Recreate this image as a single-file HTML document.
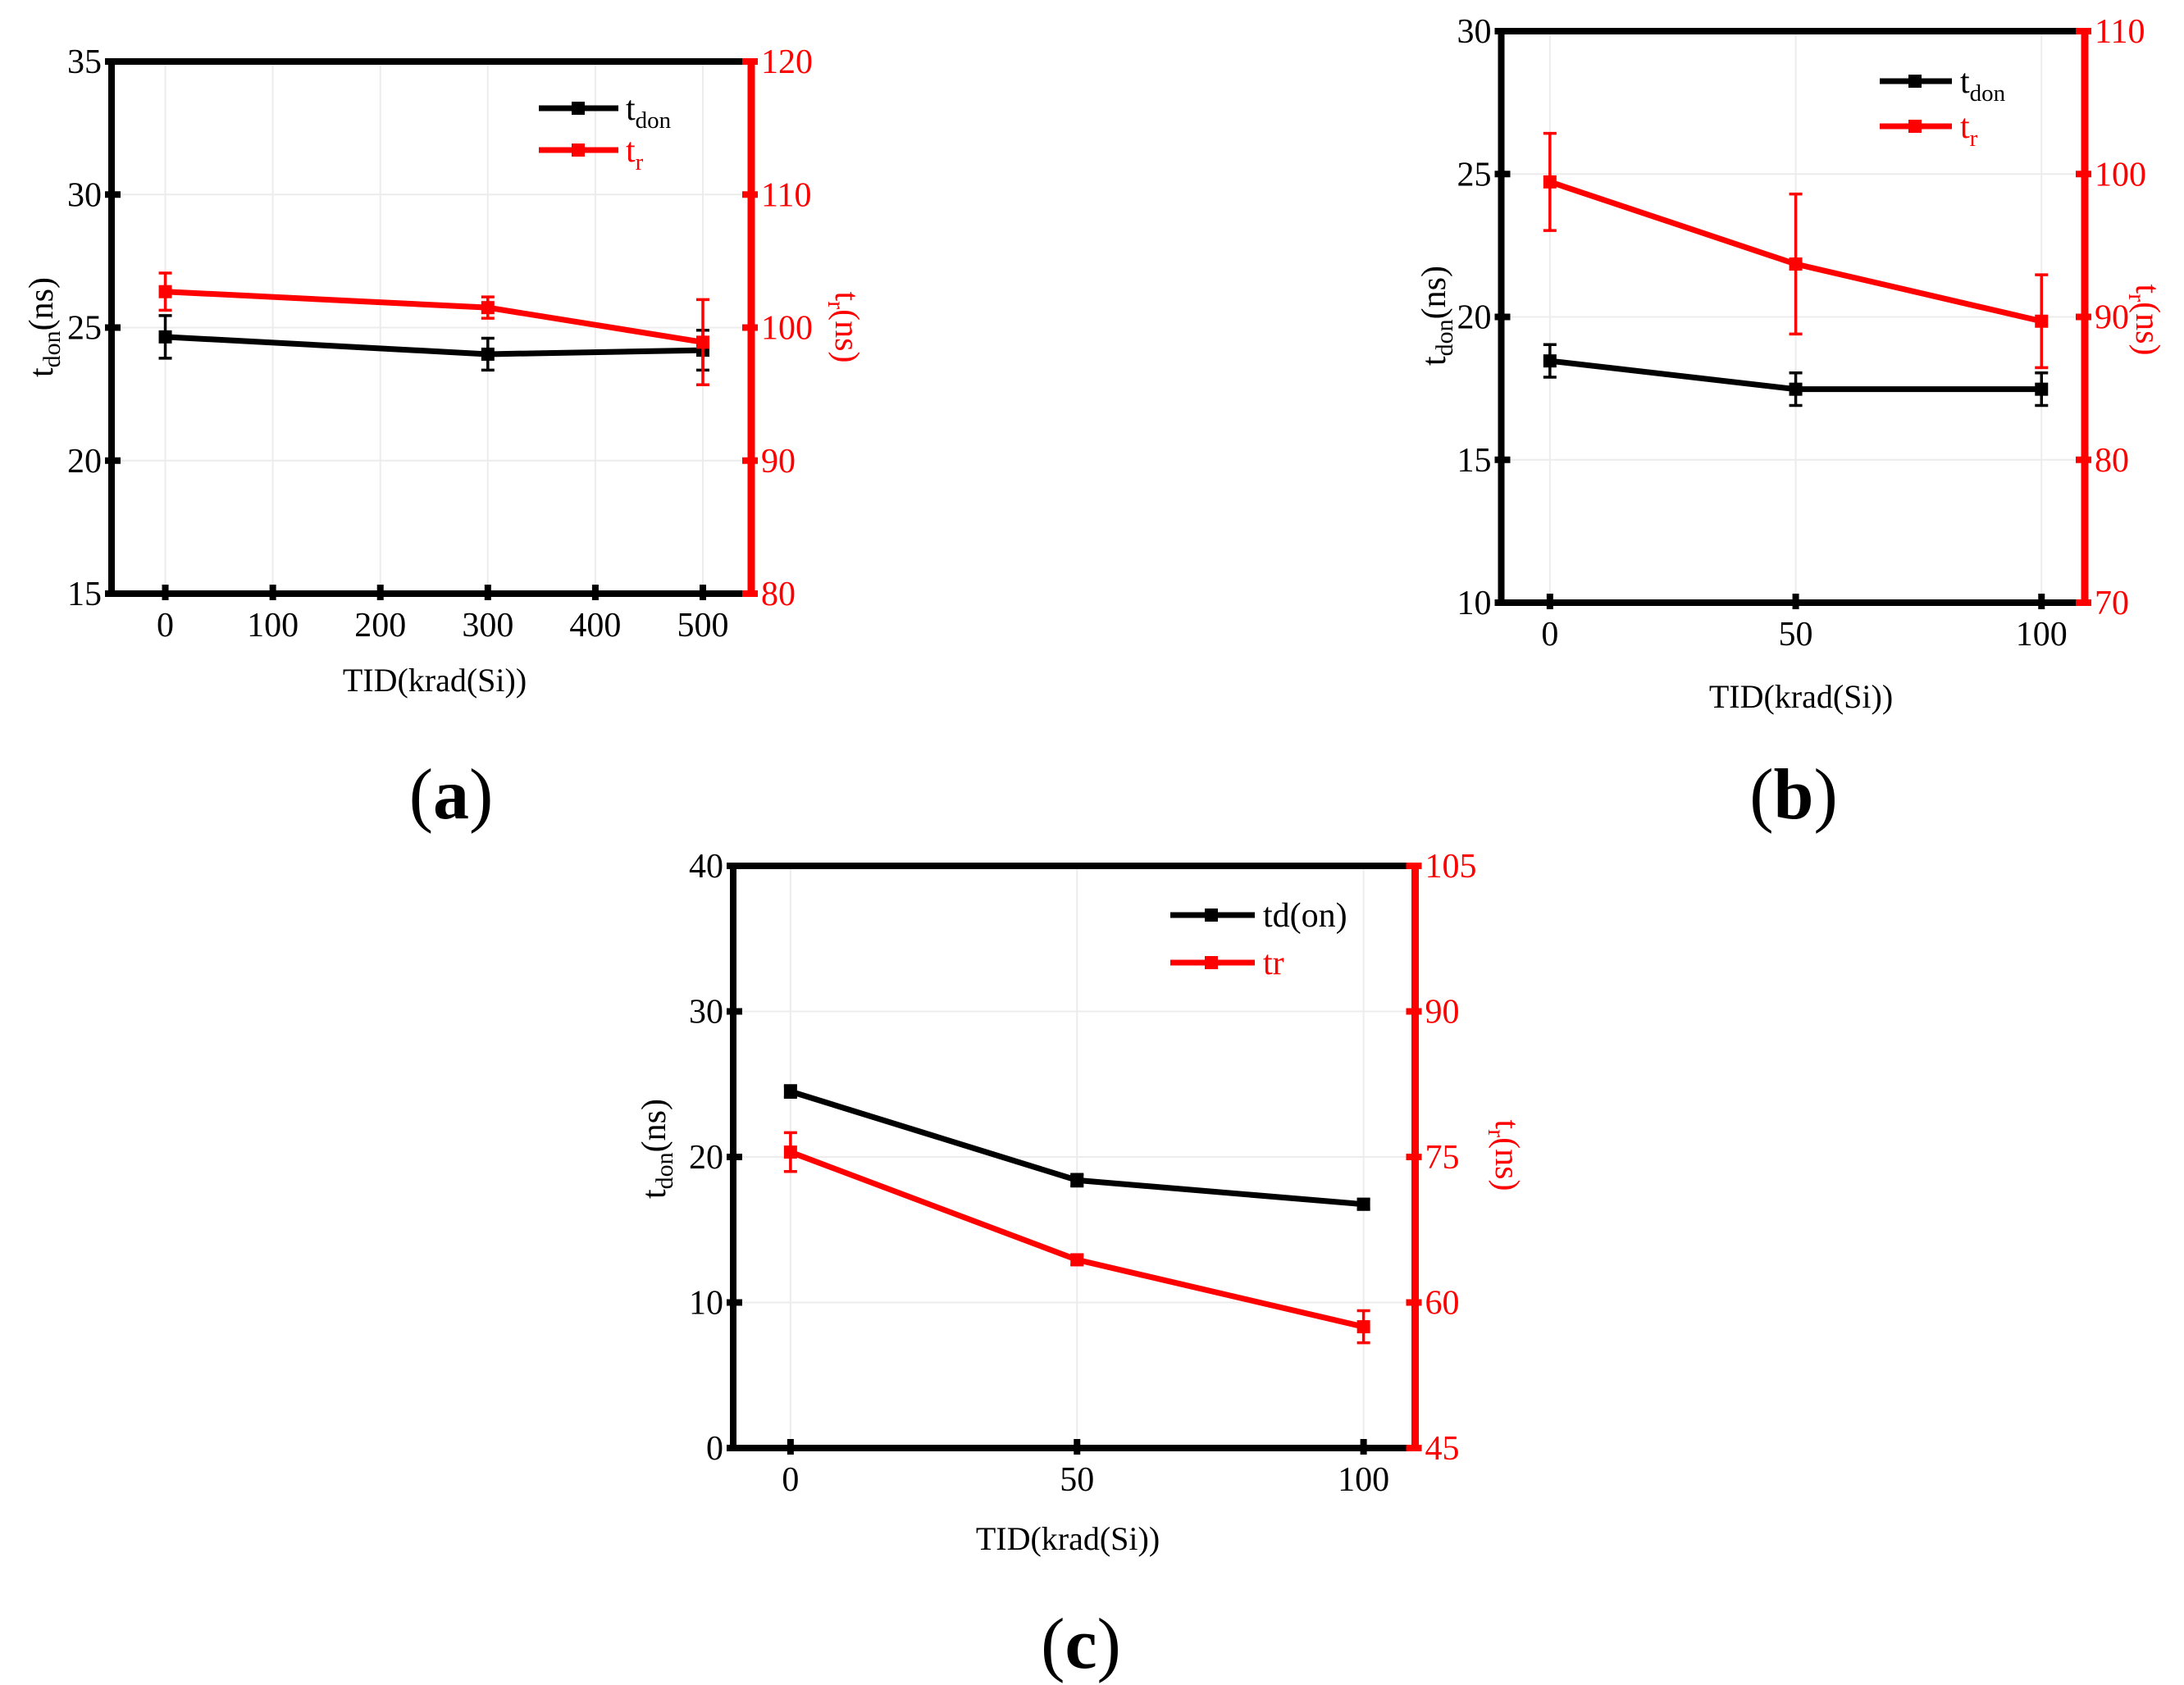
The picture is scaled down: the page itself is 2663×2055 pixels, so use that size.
<!DOCTYPE html>
<html><head><meta charset="utf-8"><style>
html,body{margin:0;padding:0;background:#fff}
svg{display:block}
text{font-family:"Liberation Serif",serif}
</style></head><body>
<svg id="fig" width="2663" height="2055" viewBox="0 0 2663 2055" xmlns="http://www.w3.org/2000/svg"></svg>
<script>
// ---- Panel (a) data ----
const aX = [0, 300, 500];
const aTdon = [24.65, 24.0, 24.15];
const aTdonErr = [0.8, 0.6, 0.75];
const aTr = [102.7, 101.5, 98.9];
const aTrErr = [1.4, 0.8, 3.2];
const aXTicks = [0, 100, 200, 300, 400, 500];
const aYTicks = [15, 20, 25, 30, 35];
const aY2Ticks = [80, 90, 100, 110, 120];
// ---- Panel (b) data ----
const bX = [0, 50, 100];
const bTdon = [18.46, 17.47, 17.47];
const bTdonErr = [0.57, 0.57, 0.57];
const bTr = [99.45, 93.7, 89.7];
const bTrErr = [3.4, 4.9, 3.25];
const bXTicks = [0, 50, 100];
const bYTicks = [10, 15, 20, 25, 30];
const bY2Ticks = [70, 80, 90, 100, 110];
// ---- Panel (c) data ----
const cX = [0, 50, 100];
const cTdon = [24.5, 18.4, 16.75];
const cTdonErr = [0.4, 0.4, 0.35];
const cTr = [75.5, 64.4, 57.5];
const cTrErr = [2.0, 0.5, 1.65];
const cXTicks = [0, 50, 100];
const cYTicks = [0, 10, 20, 30, 40];
const cY2Ticks = [45, 60, 75, 90, 105];

const NS = 'http://www.w3.org/2000/svg';
const svg = document.getElementById('fig');
function el(tag, attrs, parent, txt) {
  const e = document.createElementNS(NS, tag);
  for (const k in attrs) e.setAttribute(k, attrs[k]);
  if (txt !== undefined) e.textContent = txt;
  (parent || svg).appendChild(e);
  return e;
}

function panel(p) {
  const g = el('g', {}, svg);
  
  
  const sx = v => p.L + (v - p.xmin) / (p.xmax - p.xmin) * (p.R - p.L);
  const sy = v => p.B - (v - p.ymin) / (p.ymax - p.ymin) * (p.B - p.T);
  const sy2 = v => p.B - (v - p.y2min) / (p.y2max - p.y2min) * (p.B - p.T);
  p.xTicks.forEach(t => { const l = el('line', {x1: sx(t), x2: sx(t), y1: p.T, y2: p.B, stroke: '#ececec', 'stroke-width': 2}, g);
      });
  p.yTicks.forEach(t => { const l = el('line', {x1: p.L, x2: p.R, y1: sy(t), y2: sy(t), stroke: '#ececec', 'stroke-width': 2}, g);
      });
  const ax = el('path', {d: `M${p.R},${p.T} L${p.L},${p.T} L${p.L},${p.B} L${p.R},${p.B}`, fill: 'none', stroke: '#000', 'stroke-width': 8}, g);
   
  const ry = el('line', {x1: p.R, x2: p.R, y1: p.T - 4, y2: p.B + 4, stroke: '#f00', 'stroke-width': 9}, g);
   
  p.xTicks.forEach(t => {
    const tk = el('line', {x1: sx(t), x2: sx(t), y1: p.B - 11, y2: p.B + 8, stroke: '#000', 'stroke-width': 8}, g);
     
    const tl = el('text', {x: sx(t), y: p.B + 52, 'font-size': 42, 'text-anchor': 'middle'}, g, String(t));
     
  });
  p.yTicks.forEach(t => {
    const tk = el('line', {x1: p.L - 8, x2: p.L + 11, y1: sy(t), y2: sy(t), stroke: '#000', 'stroke-width': 8}, g);
     
    const tl = el('text', {x: p.L - 12, y: sy(t) + 14, 'font-size': 42, 'text-anchor': 'end'}, g, String(t));
     
  });
  p.y2Ticks.forEach(t => {
    const tk = el('line', {x1: p.R - 11, x2: p.R + 8, y1: sy2(t), y2: sy2(t), stroke: '#f00', 'stroke-width': 8}, g);
     
    const tl = el('text', {x: p.R + 12, y: sy2(t) + 14, 'font-size': 42, fill: '#f00'}, g, String(t));
     
  });
  const xt = el('text', {x: p.xtX, y: p.xtY + 14, 'font-size': 40, 'text-anchor': 'middle'}, g, 'TID(krad(Si))');
   
  const yt = el('text', {x: 0, y: 0, 'font-size': 42, 'text-anchor': 'middle', transform: `translate(${p.ytX + 13},${p.ytY}) rotate(-90)`}, g);
   
  el('tspan', {}, yt, 't'); el('tspan', {'font-size': 30, dy: 9}, yt, 'don'); el('tspan', {dy: -9}, yt, '(ns)');
  const y2t = el('text', {x: 0, y: 0, 'font-size': 42, fill: '#f00', 'text-anchor': 'middle', transform: `translate(${p.y2tX - 13},${p.y2tY}) rotate(90)`}, g);
   
  el('tspan', {}, y2t, 't'); el('tspan', {'font-size': 30, dy: 9}, y2t, 'r'); el('tspan', {dy: -9}, y2t, '(ns)');
  function series(xs, ys, errs, scale, color, name) {
    const sg = el('g', {}, g);
     
    const pts = xs.map((x, i) => `${sx(x)},${scale(ys[i])}`).join(' ');
    const pl = el('polyline', {points: pts, fill: 'none', stroke: color, 'stroke-width': 7}, sg);
     
    xs.forEach((x, i) => {
      const cx = sx(x), top = scale(ys[i] + errs[i]), bot = scale(ys[i] - errs[i]);
      const eb = el('path', {d: `M${cx},${top} L${cx},${bot} M${cx - 8},${top} L${cx + 8},${top} M${cx - 8},${bot} L${cx + 8},${bot}`, stroke: color, 'stroke-width': 3.5, fill: 'none'}, sg);
       
      const m = el('rect', {x: cx - 8, y: scale(ys[i]) - 8, width: 16, height: 16, fill: color}, sg);
       
    });
  }
  series(p.x, p.tdon, p.tdonErr, sy, '#000', 'tdon');
  series(p.x, p.tr, p.trErr, sy2, '#f00', 'tr');
  [[p.lg.y1, '#000', p.lg.t1, 'legend-tdon'], [p.lg.y2, '#f00', p.lg.t2, 'legend-tr']].forEach(([ly, c, t, nm]) => {
    const lgg = el('g', {}, g);
     
    el('line', {x1: p.lg.x1, x2: p.lg.x2, y1: ly, y2: ly, stroke: c, 'stroke-width': 7}, lgg);
    el('rect', {x: p.lg.mx - 8, y: ly - 8, width: 16, height: 16, fill: c}, lgg);
    const tx = el('text', {x: p.lg.tx, y: ly + 14, 'font-size': 42, fill: c}, lgg);
    if (t === 'sub-don') { el('tspan', {}, tx, 't'); el('tspan', {'font-size': 29, dy: 10}, tx, 'don'); }
    else if (t === 'sub-r') { el('tspan', {}, tx, 't'); el('tspan', {'font-size': 29, dy: 10}, tx, 'r'); }
    else tx.textContent = t;
  });
  const pl = el('text', {x: p.plX, y: p.plY + 30, 'font-size': 88, 'text-anchor': 'middle'}, g);
   
  el('tspan', {}, pl, '('); el('tspan', {'font-weight': 'bold'}, pl, p.id); el('tspan', {}, pl, ')');
}

panel({id: 'a', L: 136, R: 916, T: 75, B: 724, xmin: -50, xmax: 545, ymin: 15, ymax: 35, y2min: 80, y2max: 120,
  xTicks: aXTicks, yTicks: aYTicks, y2Ticks: aY2Ticks, x: aX, tdon: aTdon, tdonErr: aTdonErr, tr: aTr, trErr: aTrErr,
  xtX: 530, xtY: 829, ytX: 51, ytY: 399, y2tX: 1032, y2tY: 399,
  lg: {x1: 657, x2: 754, mx: 705, tx: 763, y1: 132, y2: 183, t1: 'sub-don', t2: 'sub-r'}, plX: 550, plY: 968});
panel({id: 'b', L: 1830.5, R: 2542, T: 38, B: 735, xmin: -9.9, xmax: 108.8, ymin: 10, ymax: 30, y2min: 70, y2max: 110,
  xTicks: bXTicks, yTicks: bYTicks, y2Ticks: bY2Ticks, x: bX, tdon: bTdon, tdonErr: bTdonErr, tr: bTr, trErr: bTrErr,
  xtX: 2196, xtY: 849, ytX: 1749, ytY: 385, y2tX: 2618, y2tY: 390,
  lg: {x1: 2292, x2: 2380, mx: 2335, tx: 2390, y1: 99, y2: 154, t1: 'sub-don', t2: 'sub-r'}, plX: 2187, plY: 968});
panel({id: 'c', L: 894, R: 1725.5, T: 1056, B: 1766, xmin: -10, xmax: 109, ymin: 0, ymax: 40, y2min: 45, y2max: 105,
  xTicks: cXTicks, yTicks: cYTicks, y2Ticks: cY2Ticks, x: cX, tdon: cTdon, tdonErr: cTdonErr, tr: cTr, trErr: cTrErr,
  xtX: 1302, xtY: 1876, ytX: 798, ytY: 1401, y2tX: 1837, y2tY: 1409,
  lg: {x1: 1427, x2: 1530, mx: 1477, tx: 1540, y1: 1116, y2: 1174, t1: 'td(on)', t2: 'tr'}, plX: 1318, plY: 2004});
</script>
</body></html>
